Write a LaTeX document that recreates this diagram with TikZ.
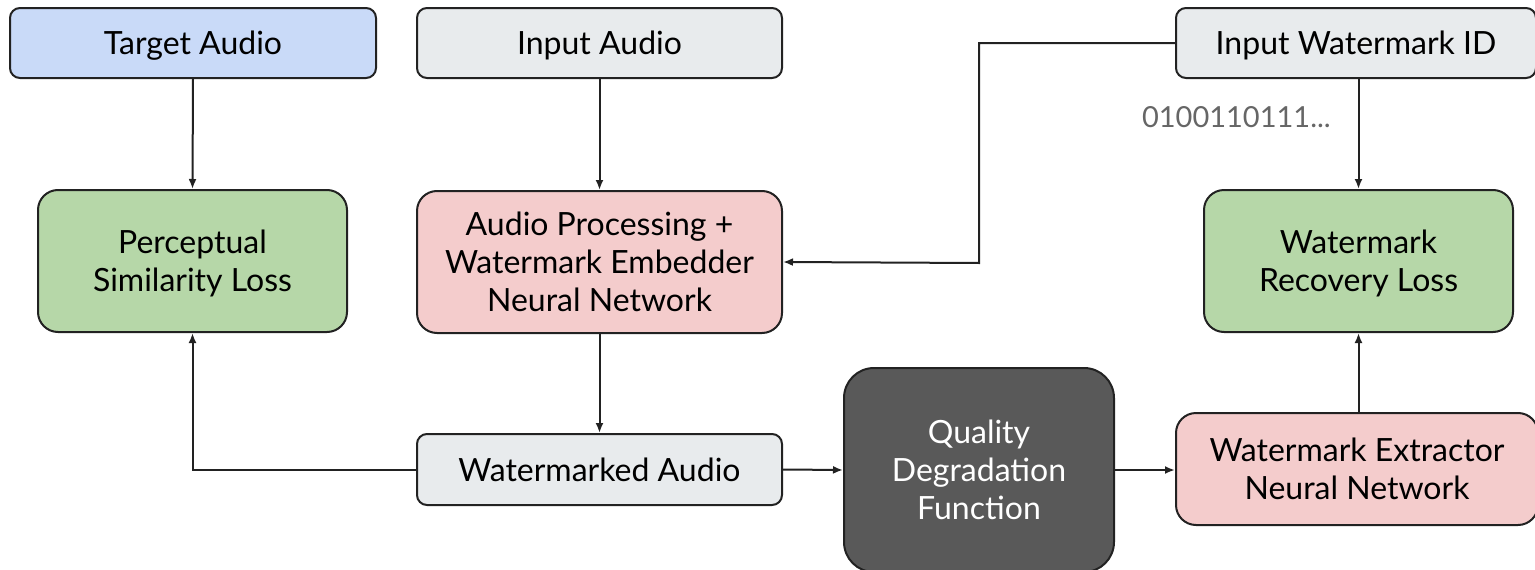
\documentclass[tikz,border=0pt]{standalone}
\usepackage{fontspec}
\setmainfont{Lato}
\usetikzlibrary{arrows.meta}
\definecolor{cblue}{HTML}{C9DAF8}
\definecolor{cgray}{HTML}{E8EBED}
\definecolor{cgreen}{HTML}{B6D7A8}
\definecolor{cpink}{HTML}{F4CCCC}
\definecolor{cdark}{HTML}{595959}
\definecolor{cline}{HTML}{222222}
\definecolor{cbits}{HTML}{666666}
\tikzset{
  box/.style={draw=cline, line width=2pt, rounded corners=10pt, align=center,
    font=\fontsize{32}{38}\selectfont, inner sep=0pt, text depth=-3pt},
  bigbox/.style={box, rounded corners=20pt},
  conn/.style={draw=cline, line width=2pt, -{Latex[length=10pt,width=8pt]}},
}
\begin{document}
\begin{tikzpicture}[x=1pt,y=-1pt]
\useasboundingbox (0,0) rectangle (1535,570);
% top row
\node[box, fill=cblue, minimum width=366pt, minimum height=70pt] (target) at (193,43) {Target Audio};
\node[box, fill=cgray, minimum width=365pt, minimum height=70pt] (input) at (599.5,43) {Input Audio};
\node[box, fill=cgray, minimum width=360pt, minimum height=70pt] (wmid) at (1356,43) {Input Watermark ID};
% middle row
\node[bigbox, fill=cgreen, minimum width=309pt, minimum height=142pt] (percep) at (192.5,261) {Perceptual\\Similarity Loss};
\node[bigbox, fill=cpink, minimum width=365pt, minimum height=142pt] (embed) at (599.5,262) {Audio Processing +\\Watermark Embedder\\Neural Network};
\node[bigbox, fill=cgreen, minimum width=309pt, minimum height=142pt] (recov) at (1358.5,261) {Watermark\\Recovery Loss};
% bottom row
\node[box, fill=cgray, minimum width=365pt, minimum height=71pt] (wmaudio) at (599.5,469.5) {Watermarked Audio};
\node[box, fill=cdark, text=white, rounded corners=30pt, minimum width=270pt, minimum height=204pt] (degrade) at (979,470) {Quality\\Degradation\\Function};
\node[bigbox, fill=cpink, minimum width=362pt, minimum height=112pt] (extract) at (1357,469) {Watermark Extractor\\Neural Network};
% bit string label
\node[text=cbits, font=\fontsize{29}{30}\selectfont, anchor=east, inner sep=0pt] (bits) at (1331,117) {0100110111...};
% connectors
\draw[conn] (target.south) -- (percep.north);
\draw[conn] (input.south) -- (embed.north);
\draw[conn] (wmid.west) -| (979,263) -- (embed.east);
\draw[conn] (wmid.south -| recov.north) -- (recov.north);
\draw[conn] (embed.south) -- (wmaudio.north);
\draw[conn] (wmaudio.west) -| (percep.south);
\draw[conn] (wmaudio.east) -- (degrade.west);
\draw[conn] (degrade.east) -- (extract.west |- degrade.east);
\draw[conn] (extract.north -| recov.south) -- (recov.south);
\end{tikzpicture}
\end{document}
